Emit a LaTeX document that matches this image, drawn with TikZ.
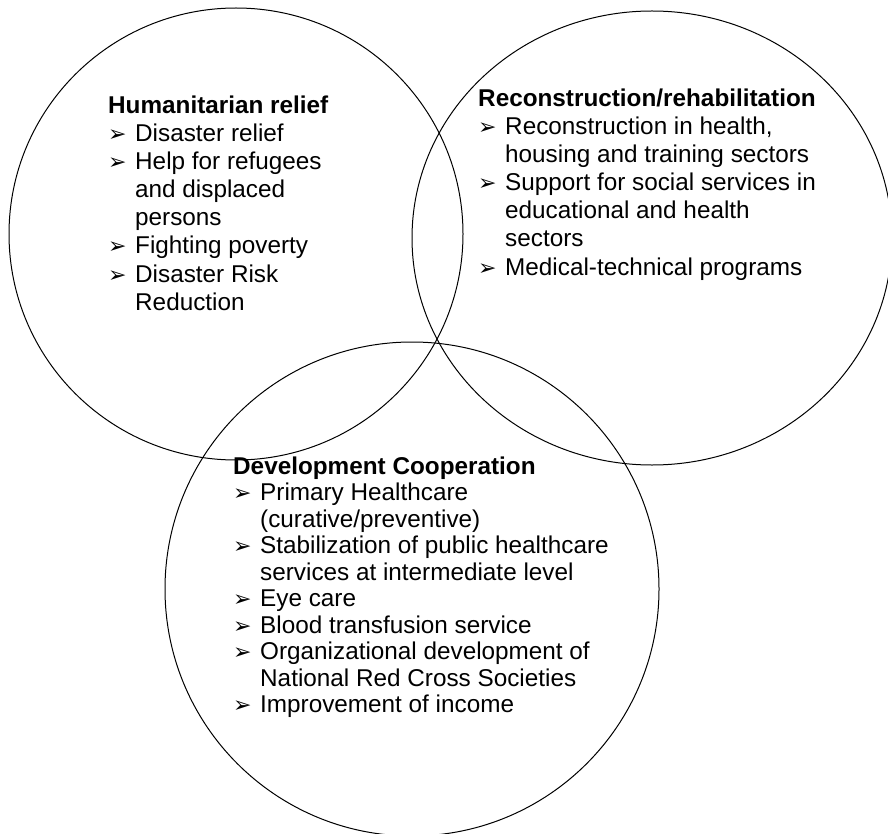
\documentclass[tikz,border=0pt]{standalone}
\usepackage{fontspec}
\setmainfont{Liberation Sans}
\newfontfamily\symfont{DejaVu Sans}
\begin{document}
\begin{tikzpicture}[x=1pt,y=-1pt,
  ring/.style={draw=black,line width=1pt},
  head/.style={anchor=base west,inner sep=0pt,font=\fontsize{24.3}{28}\selectfont\bfseries},
  item/.style={anchor=base west,inner sep=0pt,font=\fontsize{24.3}{28}\selectfont},
  bul/.style={anchor=base west,inner sep=0pt,font=\fontsize{22}{24}\symfont}]
\useasboundingbox (0,0) rectangle (888,834);
\clip (0,0) rectangle (888,834);
% circles
\draw[ring] (236,234) ellipse [x radius=227,y radius=226];
\draw[ring] (652,238) ellipse [x radius=240,y radius=227];
\draw[ring] (412,589) ellipse [x radius=247,y radius=247];
% left block
\node[head] (h1) at (108,114) {Humanitarian relief};
\node[bul] (b11) at (108,142) {➢};
\node[item] (t11) at (135,142) {Disaster relief};
\node[bul] (b12) at (108,170) {➢};
\node[item] (t12) at (135,170) {Help for refugees};
\node[item] (t13) at (135,198) {and displaced};
\node[item] (t14) at (135,226) {persons};
\node[bul] (b15) at (108,254) {➢};
\node[item] (t15) at (135,254) {Fighting poverty};
\node[bul] (b16) at (108,282) {➢};
\node[item] (t16) at (135,282) {Disaster Risk};
\node[item] (t17) at (135,310) {Reduction};
% right block
\node[head] (h2) at (478,107) {Reconstruction/rehabilitation};
\node[bul] (b21) at (478,135) {➢};
\node[item] (t21) at (505,135) {Reconstruction in health,};
\node[item] (t22) at (505,163) {housing and training sectors};
\node[bul] (b23) at (478,191) {➢};
\node[item] (t23) at (505,191) {Support for social services in};
\node[item] (t24) at (505,219) {educational and health};
\node[item] (t25) at (505,247) {sectors};
\node[bul] (b26) at (478,275) {➢};
\node[item] (t26) at (505,275) {Medical-technical programs};
% bottom block
\node[head] (h3) at (233,474) {Development Cooperation};
\node[bul] (b31) at (233,500.5) {➢};
\node[item] (t31) at (260,500.5) {Primary Healthcare};
\node[item] (t32) at (260,527) {(curative/preventive)};
\node[bul] (b33) at (233,553.5) {➢};
\node[item] (t33) at (260,553.5) {Stabilization of public healthcare};
\node[item] (t34) at (260,580) {services at intermediate level};
\node[bul] (b35) at (233,606.5) {➢};
\node[item] (t35) at (260,606.5) {Eye care};
\node[bul] (b36) at (233,633) {➢};
\node[item] (t36) at (260,633) {Blood transfusion service};
\node[bul] (b37) at (233,659.5) {➢};
\node[item] (t37) at (260,659.5) {Organizational development of};
\node[item] (t38) at (260,686) {National Red Cross Societies};
\node[bul] (b39) at (233,712.5) {➢};
\node[item] (t39) at (260,712.5) {Improvement of income};
\end{tikzpicture}
\end{document}
